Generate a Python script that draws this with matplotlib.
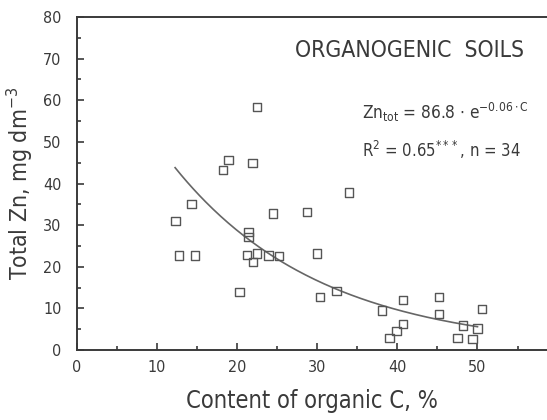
import matplotlib
matplotlib.use("Agg")
import matplotlib.pyplot as plt
import numpy as np
from matplotlib.ticker import MultipleLocator

# Data
organic_c = [12.3, 12.7, 14.3, 14.75, 18.2, 18.9, 20.3, 21.4, 21.4, 21.2, 22.0, 21.9,
             22.5, 22.5, 23.9, 25.2, 24.5, 28.7, 30.0, 30.3, 32.4, 34.0, 38.1, 39.0,
             39.9, 40.7, 40.7, 45.2, 45.2, 47.5, 48.2, 49.4, 50.0, 50.6]
total_zn = [31.0, 22.7, 35.0, 22.7, 43.2, 45.7, 14.0, 28.4, 27.2, 22.8, 21.1, 45.0,
            58.3, 23.2, 22.7, 22.6, 32.8, 33.2, 23.2, 12.8, 14.2, 37.8, 9.45, 2.96,
            4.57, 6.25, 12.0, 12.8, 8.6, 2.96, 5.85, 2.7, 5.2, 9.8]
# drawn fitted curve (as it appears in the picture)
fit_a = 85.4
fit_b = 0.0545
fit_range = (12.25, 50.0)

title_text = "ORGANOGENIC  SOILS"
eq_text = r"Zn$_{\mathregular{tot}}$ = 86.8 $\cdot$ e$^{\mathregular{-0.06 \cdot C}}$"
r2_text = r"R$^{\mathregular{2}}$ = 0.65$^{\mathregular{***}}$, n = 34"
xlabel = "Content of organic C, %"
ylabel = r"Total Zn, mg dm$^{\mathregular{-3}}$"

plt.rcParams['font.family'] = ['DejaVu Sans']
plt.rcParams['font.stretch'] = 'condensed'
plt.rcParams['mathtext.default'] = 'regular'
ink = '#3a3a3a'

fig = plt.figure(figsize=(5.47, 4.2), dpi=100)
ax = fig.add_axes([77/547, 70/420, 1 - 77/547 + 0.001, (350 - 17)/420])

ax.scatter(organic_c, total_zn, marker='s', s=36, facecolors='none',
           edgecolors='#555555', linewidths=1.0, zorder=3)
xs = np.linspace(fit_range[0], fit_range[1], 200)
ax.plot(xs, fit_a * np.exp(-fit_b * xs), color='#666666', lw=1.2, zorder=2)

ax.set_xlim(0, 58.75)
ax.set_ylim(0, 80)
ax.xaxis.set_major_locator(MultipleLocator(10))
ax.xaxis.set_minor_locator(MultipleLocator(5))
ax.yaxis.set_major_locator(MultipleLocator(10))
ax.yaxis.set_minor_locator(MultipleLocator(5))
ax.tick_params(which='both', direction='in', color=ink, labelcolor=ink,
               labelsize=11.5, width=1.2)
ax.tick_params(which='major', length=5)
ax.tick_params(which='minor', length=3)
ax.tick_params(axis='x', pad=7)
ax.tick_params(axis='y', pad=11)
ax.spines['right'].set_visible(False)
for s in ['left', 'bottom', 'top']:
    ax.spines[s].set_color(ink)
    ax.spines[s].set_linewidth(1.4)

ax.set_xlabel(xlabel, fontsize=17, color=ink, labelpad=10)
ax.set_ylabel(ylabel, fontsize=16.5, color=ink, labelpad=6)

fig.text(295/547, 1 - 57/420, title_text, fontsize=16.5, color=ink, va='baseline')
fig.text(362/547, 1 - 112/420, eq_text, fontsize=12.3, color=ink, va='center')
fig.text(362/547, 1 - 150/420, r2_text, fontsize=12, color=ink, va='center')

fig.savefig("out.png", dpi=100)
